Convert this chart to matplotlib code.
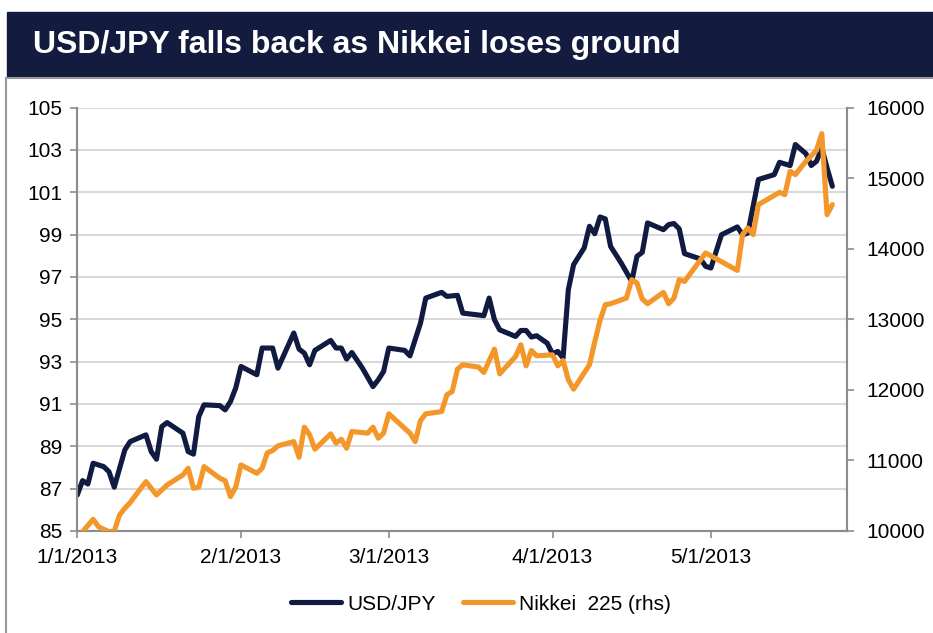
import matplotlib
matplotlib.use("Agg")
import matplotlib.pyplot as plt
import matplotlib.dates as mdates
from matplotlib.lines import Line2D
from matplotlib.patches import Rectangle
import pandas as pd

plt.rcParams['font.family'] = ['Liberation Sans', 'DejaVu Sans']

NAVY = "#111b42"
ORANGE = "#f4972b"
GRID = "#d9d9d9"
SPINE = "#8c8c8c"

# USD/JPY (left axis)
usd_dates = ["01-01", "01-02", "01-03", "01-04", "01-06", "01-07", "01-08", "01-10", "01-11",
             "01-14", "01-15", "01-16", "01-17", "01-18", "01-21", "01-22", "01-23", "01-24",
             "01-25", "01-28", "01-29", "01-30", "01-31", "02-01", "02-04", "02-05", "02-07",
             "02-08", "02-11", "02-12", "02-13", "02-14", "02-15", "02-18", "02-19", "02-20",
             "02-21", "02-22", "02-24", "02-26", "02-27", "02-28", "03-01", "03-04", "03-05",
             "03-07", "03-08", "03-11", "03-12", "03-14", "03-15", "03-19", "03-20", "03-21",
             "03-22", "03-25", "03-26", "03-27", "03-28", "03-29", "03-31", "04-01", "04-02",
             "04-03", "04-04", "04-05", "04-07", "04-08", "04-09", "04-10", "04-11", "04-12",
             "04-14", "04-16", "04-17", "04-18", "04-19", "04-22", "04-23", "04-24", "04-25",
             "04-26", "04-29", "04-30", "05-01", "05-03", "05-06", "05-07", "05-08", "05-10",
             "05-13", "05-14", "05-16", "05-17", "05-19", "05-20", "05-21", "05-22", "05-23",
             "05-24"]
usdjpy = [86.70, 87.38, 87.22, 88.20, 88.04, 87.80, 87.07, 88.83, 89.22,
          89.54, 88.75, 88.39, 89.93, 90.12, 89.62, 88.75, 88.63, 90.40,
          90.96, 90.92, 90.72, 91.11, 91.75, 92.77, 92.38, 93.64, 93.64,
          92.69, 94.35, 93.59, 93.40, 92.85, 93.53, 94.00, 93.64, 93.64,
          93.12, 93.43, 92.69, 91.82, 92.14, 92.53, 93.64, 93.53, 93.27,
          94.82, 96.00, 96.27, 96.08, 96.13, 95.29, 95.17, 96.00, 94.98,
          94.50, 94.19, 94.47, 94.47, 94.16, 94.22, 93.87, 93.37, 93.48,
          93.17, 96.40, 97.58, 98.37, 99.39, 99.04, 99.83, 99.74, 98.44,
          97.66, 96.79, 97.97, 98.16, 99.55, 99.23, 99.47, 99.52, 99.27,
          98.10, 97.85, 97.50, 97.42, 98.99, 99.36, 98.99, 99.07, 101.60,
          101.83, 102.41, 102.26, 103.25, 102.82, 102.26, 102.46, 103.09, 102.15,
          101.28]

# Nikkei 225 (right axis)
nk_dates = ["01-02", "01-04", "01-05", "01-07", "01-08", "01-09", "01-10", "01-11", "01-14",
            "01-16", "01-18", "01-21", "01-22", "01-23", "01-24", "01-25", "01-28", "01-29",
            "01-30", "01-31", "02-01", "02-04", "02-05", "02-06", "02-07", "02-08", "02-11",
            "02-12", "02-13", "02-14", "02-15", "02-18", "02-19", "02-20", "02-21", "02-22",
            "02-25", "02-26", "02-27", "02-28", "03-01", "03-05", "03-06", "03-07", "03-08",
            "03-11", "03-12", "03-13", "03-14", "03-15", "03-18", "03-19", "03-21", "03-22",
            "03-25", "03-26", "03-27", "03-28", "03-29", "04-01", "04-02", "04-03", "04-04",
            "04-05", "04-08", "04-09", "04-10", "04-11", "04-12", "04-15", "04-16", "04-17",
            "04-18", "04-19", "04-22", "04-23", "04-24", "04-25", "04-26", "04-30", "05-06",
            "05-07", "05-08", "05-09", "05-10", "05-14", "05-15", "05-16", "05-17", "05-19",
            "05-21", "05-22", "05-23", "05-24"]
nikkei = [9990, 10166, 10061, 9990, 10000, 10227, 10322, 10402, 10700,
          10511, 10652, 10794, 10889, 10605, 10620, 10912, 10747, 10714,
          10487, 10620, 10936, 10818, 10889, 11110, 11139, 11206, 11267,
          11045, 11471, 11362, 11159, 11376, 11244, 11300, 11173, 11409,
          11386, 11471, 11315, 11386, 11660, 11386, 11267, 11565, 11660,
          11692, 11929, 11976, 12294, 12355, 12322, 12246, 12577, 12227,
          12472, 12638, 12340, 12557, 12482, 12496, 12340, 12415, 12142,
          12010, 12355, 12680, 12983, 13206, 13220, 13300, 13560, 13513,
          13287, 13220, 13380, 13220, 13300, 13560, 13536, 13939, 13692,
          14199, 14294, 14199, 14624, 14798, 14766, 15096, 15050, 15238,
          15395, 15630, 14482, 14624]

usd_x = pd.to_datetime(["2013-" + d for d in usd_dates])
nk_x = pd.to_datetime(["2013-" + d for d in nk_dates])

fig = plt.figure(figsize=(9.33, 6.33), dpi=100)

# title banner and chart frame
fig.add_artist(Rectangle((7 / 933, 1 - 77 / 633), 926 / 933, 65 / 633,
                         transform=fig.transFigure, color="#131b3f", zorder=0))
fig.text(33 / 933, 1 - 45 / 633, "USD/JPY falls back as Nikkei loses ground",
         color="white", fontsize=23, fontweight="bold", va="center", ha="left")
fig.add_artist(Line2D([6 / 933, 6 / 933], [0, 1 - 78 / 633], transform=fig.transFigure,
                      color="#999999", lw=1.5))
fig.add_artist(Line2D([6 / 933, 1], [1 - 78 / 633, 1 - 78 / 633], transform=fig.transFigure,
                      color="#999999", lw=1.5))

ax = fig.add_axes([77.3 / 933, 102 / 633, 770 / 933, 423.5 / 633])
ax2 = ax.twinx()

l1, = ax.plot(usd_x, usdjpy, color=NAVY, lw=3.7, solid_joinstyle="round",
              solid_capstyle="round", zorder=3)
l2, = ax2.plot(nk_x, nikkei, color=ORANGE, lw=3.7, solid_joinstyle="round",
               solid_capstyle="round", zorder=3)

ax.set_ylim(85, 105)
ax.set_yticks(range(85, 106, 2))
ax2.set_ylim(10000, 16000)
ax2.set_yticks(range(10000, 16001, 1000))
ax.set_xlim(pd.Timestamp("2013-01-01"), pd.Timestamp("2013-05-26 20:00"))
ax.xaxis.set_major_locator(mdates.MonthLocator())
ax.xaxis.set_major_formatter(mdates.DateFormatter("%-m/%-d/%Y"))

ax.grid(axis="y", color=GRID, lw=1.5)
ax.set_axisbelow(True)

for a in (ax, ax2):
    for s in a.spines.values():
        s.set_color(SPINE)
        s.set_linewidth(1.5)
    a.spines["top"].set_visible(False)
    a.tick_params(colors=SPINE, labelcolor="black", labelsize=15, width=1.2, length=5)
ax.tick_params(axis="y", pad=6)
ax.tick_params(axis="x", pad=7)
ax2.tick_params(axis="y", pad=9)

fig.legend([l1, l2], ["USD/JPY", "Nikkei  225 (rhs)"], loc="center",
           bbox_to_anchor=(481 / 933, 1 - 604 / 633), ncol=2, frameon=False,
           fontsize=15, handlelength=2.4, handletextpad=0.3, columnspacing=1.3)

fig.savefig("out.png", dpi=100)
